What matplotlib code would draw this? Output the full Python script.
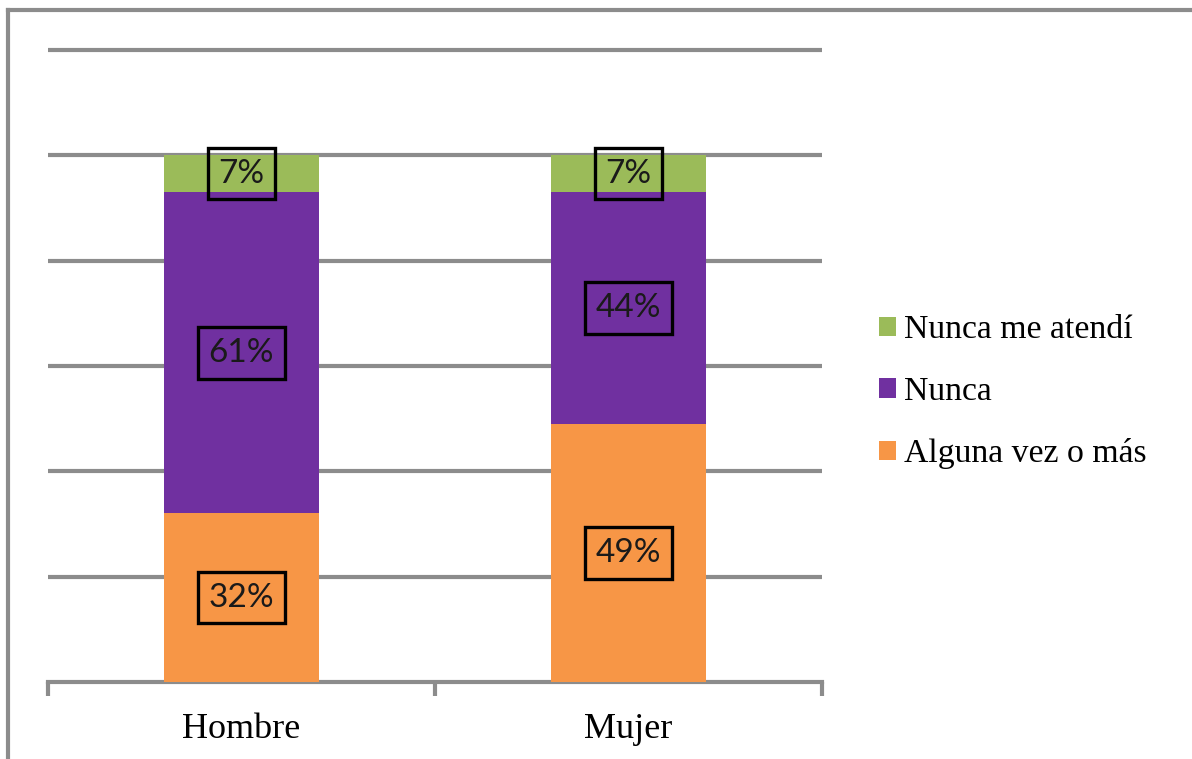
import matplotlib
matplotlib.use("Agg")
import matplotlib.pyplot as plt
from matplotlib.lines import Line2D
import numpy as np

categories = ["Hombre", "Mujer"]
series_names = ["Alguna vez o más", "Nunca", "Nunca me atendí"]
alguna = [32, 49]
nunca = [61, 44]
nunca_atendi = [7, 7]
colors = ["#F79646", "#7030A0", "#9BBB59"]

fig = plt.figure(figsize=(11.92, 7.59), dpi=100)
ax = fig.add_axes([48 / 1192, 77 / 759, 774 / 1192, 632 / 759])

x = np.arange(len(categories))
bottom = np.zeros(len(categories))
bars = []
for vals, name, c in zip([alguna, nunca, nunca_atendi], series_names, colors):
    vals = np.array(vals, dtype=float)
    b = ax.bar(x, vals, width=0.4, bottom=bottom, color=c, label=name, zorder=3)
    bars.append(b)
    for xi, v, b0 in zip(x, vals, bottom):
        ax.text(xi, b0 + v / 2, f"{int(v)}%", ha="center", va="center",
                fontsize=24, family="Lato", color="#1a1a1a", zorder=5,
                bbox=dict(boxstyle="square,pad=0.32", fc="none", ec="black", lw=2.4))
    bottom += vals

ax.set_xlim(-0.5, 1.5)
ax.set_ylim(0, 120)
ax.set_yticks(np.arange(20, 121, 20))
ax.yaxis.grid(True, color="#8c8c8c", lw=3)
for gl in ax.get_ygridlines():
    gl.set_clip_on(False)
    gl.set_solid_capstyle("butt")
ax.tick_params(axis="y", left=False, labelleft=False)
for s in ["top", "right", "left"]:
    ax.spines[s].set_visible(False)
ax.spines["bottom"].set_color("#8c8c8c")
ax.spines["bottom"].set_linewidth(3)
ax.set_axisbelow(True)

ax.set_xticks(x)
ax.set_xticklabels(categories, family="Liberation Serif", fontsize=26)
ax.tick_params(axis="x", which="major", length=0, pad=22)
ax.set_xticks([-0.5, 0.5, 1.5], minor=True)
ax.tick_params(axis="x", which="minor", length=10, width=3, color="#8c8c8c", direction="out")

handles = [bars[2], bars[1], bars[0]]
leg = fig.legend(handles, [series_names[2], series_names[1], series_names[0]],
                 loc="center left", bbox_to_anchor=(849 / 1192, 1 - 392 / 759),
                 frameon=False, prop={"family": "Liberation Serif", "size": 24.3},
                 handlelength=0.5, handleheight=0.5, handletextpad=0.24,
                 labelspacing=0.93)

# outer frame, top and left edges only
fig.add_artist(Line2D([8 / 1192, 1], [1 - 10 / 759, 1 - 10 / 759], color="#8c8c8c", lw=3,
                      transform=fig.transFigure))
fig.add_artist(Line2D([8 / 1192, 8 / 1192], [0, 1 - 10 / 759], color="#8c8c8c", lw=3,
                      transform=fig.transFigure))

fig.savefig("out.png", dpi=100)
